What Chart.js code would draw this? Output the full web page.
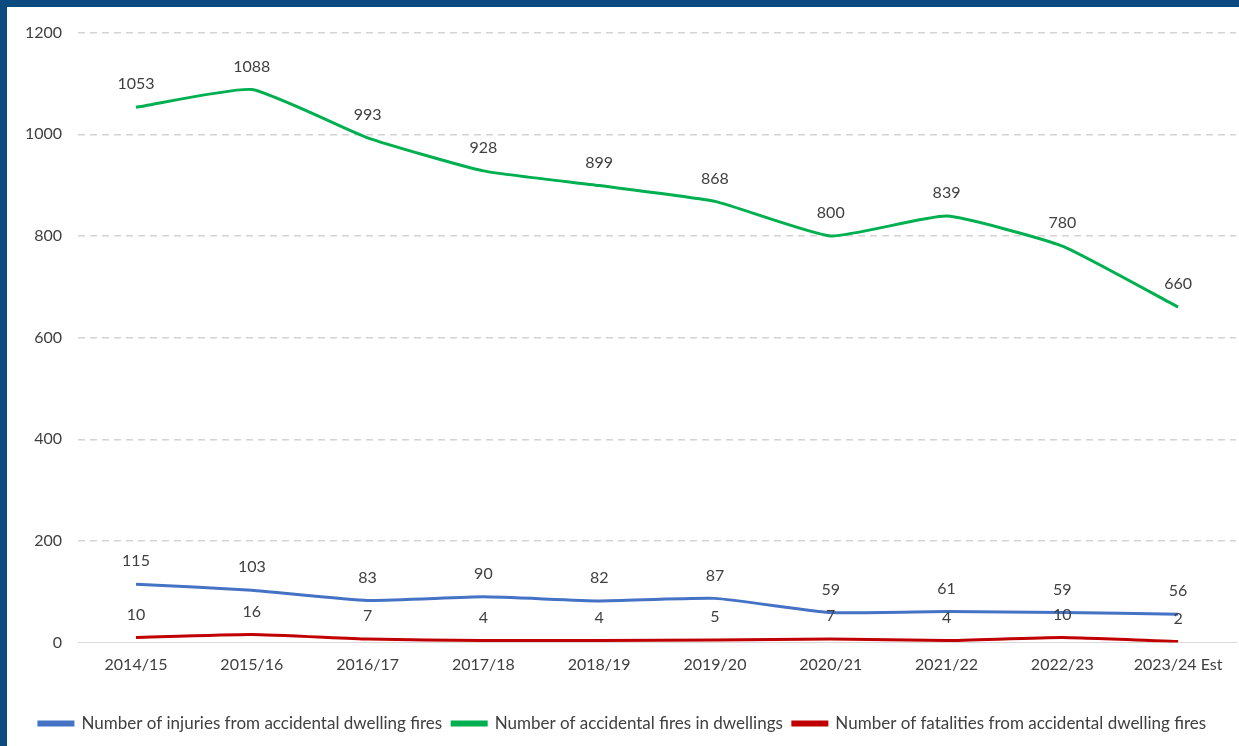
<!DOCTYPE html>
<html lang="en">
<head>
  <meta charset="UTF-8">
  <title>Accidental dwelling fires</title>
  <script src="https://cdn.jsdelivr.net/npm/chart.js"></script>
  <style>
html, body {
  margin: 0;
  padding: 0;
  background: #0b4a7f;
}

.chart-container {
  position: absolute;
  left: 7px;
  top: 7px;
  width: 1232px;
  height: 739px;
  background: #fff;
}
  </style>
</head>
<body>

  <div class="chart-container">
    <canvas id="fireChart"></canvas>
  </div>

  <script>
    const years = ['2014/15', '2015/16', '2016/17', '2017/18', '2018/19', '2019/20', '2020/21', '2021/22', '2022/23', '2023/24 Est'];
    const injuries = [115, 103, 83, 90, 82, 87, 59, 61, 59, 56];
    const fires = [1053, 1088, 993, 928, 899, 868, 800, 839, 780, 660];
    const fatalities = [10, 16, 7, 4, 4, 5, 7, 4, 10, 2];
    const yTicks = [0, 200, 400, 600, 800, 1000, 1200];

    const textColor = '#404040';
    const fontFamily = 'Lato, "Noto Sans", sans-serif';

    // labels above each point, like the excel data labels
    const valueLabels = {
      id: 'valueLabels',
      afterDatasetsDraw(chart) {
        const c = chart.ctx;
        c.save();
        c.font = '16px ' + fontFamily;
        c.fillStyle = textColor;
        c.textAlign = 'center';
        c.textBaseline = 'middle';
        chart.data.datasets.forEach((ds, i) => {
          chart.getDatasetMeta(i).data.forEach((pt, j) => {
            c.fillText(ds.data[j], pt.x, pt.y - 23);
          });
        });
        c.restore();
      }
    };

    const ctx = document.getElementById('fireChart').getContext('2d');
    const fireChart = new Chart(ctx, {
      type: 'line',
      data: {
        labels: years,
        datasets: [{
          label: 'Number of injuries from accidental dwelling fires',
          data: injuries,
          borderColor: '#4472c4',
          backgroundColor: '#4472c4'
        }, {
          label: 'Number of accidental fires in dwellings',
          data: fires,
          borderColor: '#00b050',
          backgroundColor: '#00b050'
        }, {
          label: 'Number of fatalities from accidental dwelling fires',
          data: fatalities,
          borderColor: '#c00000',
          backgroundColor: '#c00000'
        }]
      },
      options: {
        responsive: true,
        maintainAspectRatio: false,
        animation: false,
        elements: {
          line: { borderWidth: 3, tension: 0.15 },
          point: { radius: 0 }
        },
        layout: {
          padding: { top: 11, right: 3, bottom: 4, left: 2 }
        },
        plugins: {
          tooltip: { enabled: false },
          legend: {
            position: 'bottom',
            // empty title only used as a spacer above the legend items
            title: {
              display: true,
              text: ' ',
              font: { size: 21 },
              padding: 0
            },
            labels: {
              boxWidth: 34,
              boxHeight: 3,
              padding: 10,
              color: textColor,
              font: { family: fontFamily, size: 17 }
            }
          }
        },
        scales: {
          x: {
            offset: true,
            grid: { display: false, offset: true },
            border: { display: true, color: '#d9d9d9', width: 1 },
            ticks: {
              color: textColor,
              padding: 5,
              maxRotation: 0,
              font: { family: fontFamily, size: 16 }
            }
          },
          y: {
            min: 0,
            max: 1200,
            afterBuildTicks(axis) {
              axis.ticks = yTicks.map(v => ({ value: v }));
            },
            grid: {
              color: c => c.tick && c.tick.value === 0 ? 'rgba(0,0,0,0)' : '#d4d4d4',
              lineWidth: 1.5,
              drawTicks: false
            },
            border: { display: false, dash: [7, 5] },
            ticks: {
              color: textColor,
              padding: 16,
              callback: v => String(v),
              font: { family: fontFamily, size: 16 }
            }
          }
        }
      },
      plugins: [valueLabels]
    });
  </script>

</body>
</html>
